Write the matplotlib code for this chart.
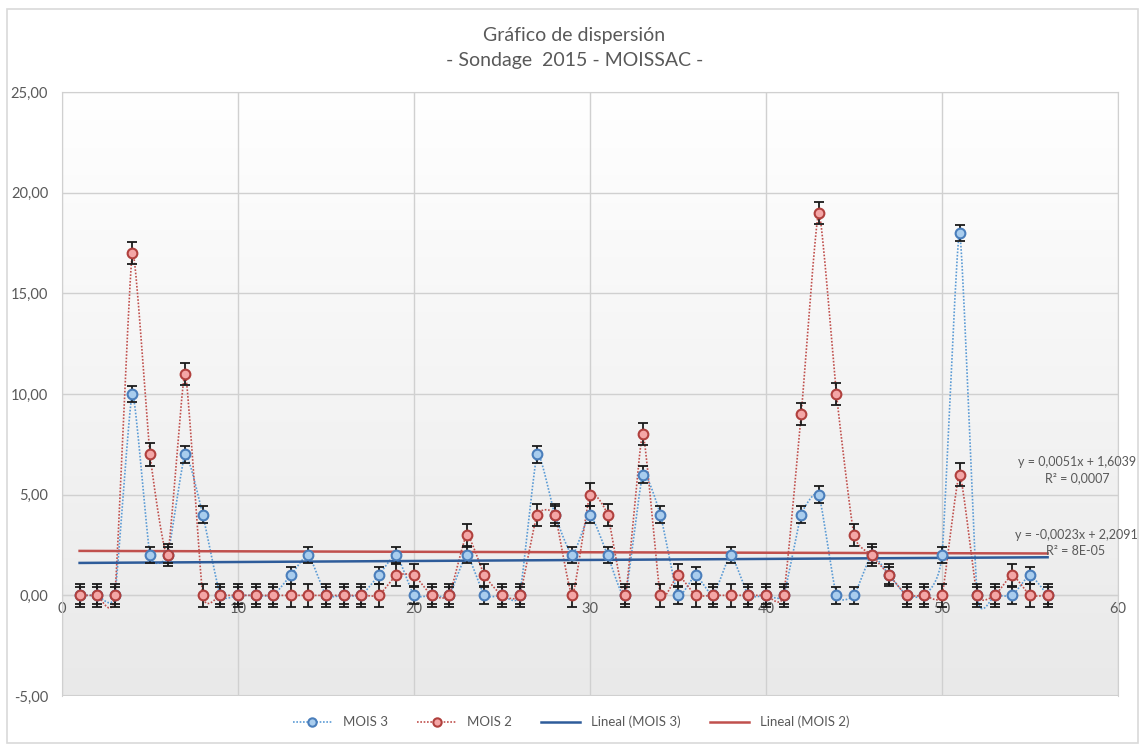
import numpy as np
import matplotlib.pyplot as plt
from matplotlib.lines import Line2D
from matplotlib.colors import LinearSegmentedColormap
from matplotlib.ticker import FuncFormatter

# Data (x = sample number 1..56)
x = np.arange(1, 57)
mois3 = [0, 0, 0, 10, 2, 2, 7, 4, 0, 0, 0, 0, 1, 2, 0, 0, 0, 1, 2, 0,
         0, 0, 2, 0, 0, 0, 7, 4, 2, 4, 2, 0, 6, 4, 0, 1, 0, 2, 0, 0,
         0, 4, 5, 0, 0, 2, 1, 0, 0, 2, 18, 0, 0, 0, 1, 0]
mois2 = [0, 0, 0, 17, 7, 2, 11, 0, 0, 0, 0, 0, 0, 0, 0, 0, 0, 0, 1, 1,
         0, 0, 3, 1, 0, 0, 4, 4, 0, 5, 4, 0, 8, 0, 1, 0, 0, 0, 0, 0,
         0, 9, 19, 10, 3, 2, 1, 0, 0, 0, 6, 0, 0, 1, 0, 0]
series_names = ['MOIS 3', 'MOIS 2']
trend_labels = ['y = 0,0051x + 1,6039\nR² = 0,0007',
                'y = -0,0023x + 2,2091\nR² = 8E-05']

plt.rcParams['font.family'] = ['Lato', 'DejaVu Sans']
grey_txt = '#595959'


def smooth(xs, ys, n=16, tension=0.5):
    # Excel-style smoothed line (cardinal spline through the points)
    px = np.concatenate([[xs[0]], xs, [xs[-1]]]).astype(float)
    py = np.concatenate([[ys[0]], ys, [ys[-1]]]).astype(float)
    t = np.linspace(0, 1, n, endpoint=False)
    h00 = 2 * t ** 3 - 3 * t ** 2 + 1
    h10 = t ** 3 - 2 * t ** 2 + t
    h01 = -2 * t ** 3 + 3 * t ** 2
    h11 = t ** 3 - t ** 2
    ox, oy = [], []
    for i in range(1, len(px) - 2):
        for p, out in ((px, ox), (py, oy)):
            m1 = tension * 0.5 * (p[i + 1] - p[i - 1])
            m2 = tension * 0.5 * (p[i + 2] - p[i])
            out.extend(h00 * p[i] + h10 * m1 + h01 * p[i + 1] + h11 * m2)
    ox.append(px[-2])
    oy.append(py[-2])
    return np.array(ox), np.array(oy)


fig = plt.figure(figsize=(11.42, 7.44), dpi=100)
ax = fig.add_axes([62 / 1142, 48 / 744, (1118 - 62) / 1142, (696 - 92) / 744])

# plot-area gradient background
cmap = LinearSegmentedColormap.from_list('bg', ['#ffffff', '#e9e9e9'])
ax.imshow(np.linspace(0, 1, 256).reshape(-1, 1), extent=[0, 60, -5, 25],
          aspect='auto', cmap=cmap, zorder=0)

styles = [
    dict(line='#5b9bd5', face='#a9cdee', edge='#4a7ebb', trend='#2e5c9a'),
    dict(line='#c0504d', face='#f4a6a6', edge='#b0403d', trend='#c0504d'),
]

for y, st in zip([mois3, mois2], styles):
    y = np.array(y, dtype=float)
    sx, sy = smooth(x, y)
    ax.plot(sx, sy, ls=(0, (1, 1)), lw=1.2, color=st['line'], zorder=3)
    se = y.std(ddof=1) / np.sqrt(len(y))
    ax.errorbar(x, y, yerr=se, fmt='none', ecolor='#1a1a1a', elinewidth=1.3,
                capsize=3.5, capthick=1.3, zorder=4)
    ax.plot(x, y, 'o', ms=7, mfc=st['face'], mec=st['edge'], mew=1.5, zorder=5)

for y, st in zip([mois3, mois2], styles):
    k, b = np.polyfit(x, y, 1)
    ax.plot([x[0], x[-1]], [k * x[0] + b, k * x[-1] + b], color=st['trend'],
            lw=1.8, zorder=3.5)

ax.set_xlim(0, 60)
ax.set_ylim(-5, 25)
ax.set_xticks(range(0, 61, 10))
ax.set_yticks(range(-5, 26, 5))
ax.yaxis.set_major_formatter(FuncFormatter(lambda v, p: f'{v:.2f}'.replace('.', ',')))
ax.grid(True, color='#d0d0d0', lw=1.0, zorder=1)
ax.set_axisbelow(True)
ax.tick_params(length=0, labelsize=10.5, labelcolor=grey_txt)
ax.tick_params(axis='y', pad=10)
for s in ax.spines.values():
    s.set_color('#d0d0d0')
ax.spines['bottom'].set_position(('data', 0))
ax.spines['bottom'].set_zorder(1)
ax.tick_params(axis='x', pad=5)
# keep a plain bottom border for the plot area
ax.axhline(-5, color='#d0d0d0', lw=1.5, zorder=1)

fig.text(0.503, 0.952, 'Gráfico de dispersión', ha='center', va='center',
         fontsize=14, color=grey_txt)
fig.text(0.503, 0.919, '- Sondage  2015 - MOISSAC -', ha='center', va='center',
         fontsize=14, color=grey_txt)

fig.text(1077 / 1142, 1 - 470 / 744, trend_labels[0], ha='center', va='center',
         fontsize=9, color=grey_txt, linespacing=1.35)
fig.text(1076 / 1142, 1 - 543 / 744, trend_labels[1], ha='center', va='center',
         fontsize=9, color=grey_txt, linespacing=1.35)

handles = [
    Line2D([], [], ls=(0, (1, 1)), lw=1.2, color=styles[0]['line'], marker='o',
           ms=6, mfc=styles[0]['face'], mec=styles[0]['edge'], mew=1.5),
    Line2D([], [], ls=(0, (1, 1)), lw=1.2, color=styles[1]['line'], marker='o',
           ms=6, mfc=styles[1]['face'], mec=styles[1]['edge'], mew=1.5),
    Line2D([], [], color=styles[0]['trend'], lw=1.8),
    Line2D([], [], color=styles[1]['trend'], lw=1.8),
]
labels = series_names + ['Lineal (MOIS 3)', 'Lineal (MOIS 2)']
leg = fig.legend(handles, labels, loc='center', bbox_to_anchor=(0.5, 1 - 722 / 744),
                 ncol=4, frameon=False, fontsize=9.5, handlelength=3,
                 columnspacing=2.2)
for t in leg.get_texts():
    t.set_color(grey_txt)

# outer chart border
fig.patches.append(plt.Rectangle((7 / 1142, 0.002), 1131 / 1142, 0.986,
                                 transform=fig.transFigure, fill=False,
                                 edgecolor='#d9d9d9', lw=1.2))

fig.savefig('out.png', dpi=100, facecolor='white')
